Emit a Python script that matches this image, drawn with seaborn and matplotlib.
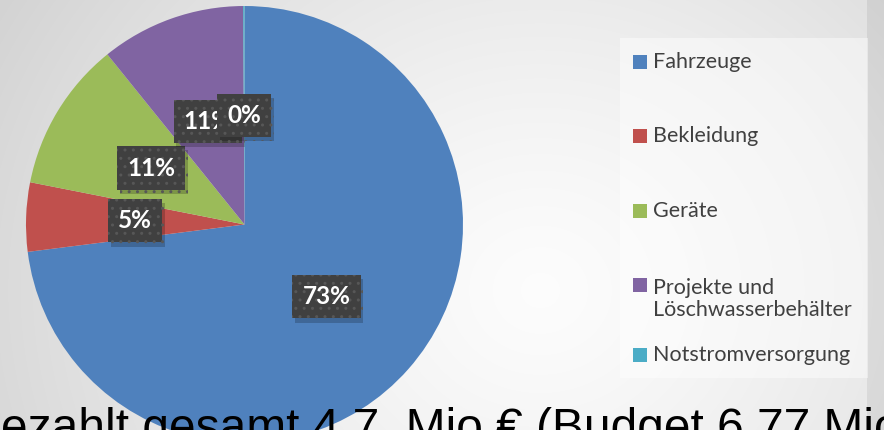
import numpy as np
import matplotlib
matplotlib.use("Agg")
import matplotlib.pyplot as plt
import matplotlib.patheffects as pe
from matplotlib.patches import Rectangle
import seaborn as sns

# ---- data ----
categories = ["Fahrzeuge", "Bekleidung", "Geräte",
              "Projekte und\nLöschwasserbehälter", "Notstromversorgung"]
shares = [73.0, 5.1, 11.1, 10.7, 0.1]
colors = ["#4F81BD", "#C0504D", "#9BBB59", "#8064A2", "#4BACC6"]
caption = "ezahlt gesamt 4,7  Mio € (Budget 6,77 Mio"

# ---- layout (pixel units) ----
W, H = 884, 430
pie_center = (244.5, H - 224.5)
pie_radius = 218.5
legend_rows_y = [62, 136, 211, 299, 355]   # image-y of legend rows
legend_box = (620, 38, 868, 378)

sns.set_theme(style="white")
plt.rcParams["font.family"] = ["Lato", "DejaVu Sans"]

fig = plt.figure(figsize=(W / 100, H / 100), dpi=100)
ax = fig.add_axes([0, 0, 1, 1])

# background radial gradient
yy, xx = np.mgrid[0:H, 0:W]
d = np.hypot(xx - 540, (yy - 290) * 1.1)
bg = np.clip(0.99 - 0.16 * (d / 620) ** 1.3, 0.80, 1.0)
bg[:, 867:] = np.clip(bg[:, 867:] - 0.06, 0, 1)
ax.imshow(np.dstack([bg] * 3), extent=(0, W, 0, H), origin="upper", zorder=0,
          interpolation="bilinear")

wedges, texts, autotexts = ax.pie(
    shares, colors=colors, startangle=90, counterclock=False,
    center=pie_center, radius=pie_radius, autopct="%.0f%%", pctdistance=0.5,
    frame=True, wedgeprops=dict(linewidth=0),
    textprops=dict(color="white", fontsize=17.5, fontweight="bold"))
for w in wedges:
    w.set_zorder(2)
for t in autotexts:
    t.set_zorder(5)
    t.set_bbox(dict(boxstyle="square,pad=0.42", fc="#404040", ec="#575757",
                    lw=0, hatch=".."))
    t.get_bbox_patch().set_path_effects(
        [pe.SimplePatchShadow(offset=(2, -3), shadow_rgbFace="black", alpha=0.2),
         pe.Normal()])

ax.set_xlim(0, W)
ax.set_ylim(0, H)
ax.set_aspect("equal")
ax.set_axis_off()

# legend panel
x0, y0, x1, y1 = legend_box
ax.add_patch(Rectangle((x0, H - y1), x1 - x0, y1 - y0, fc="white", alpha=0.45,
                       ec="none", zorder=1))
for cat, col, yrow in zip(categories, colors, legend_rows_y):
    ny = cat.count("\n")
    ysq = yrow - ny * 14
    ax.add_patch(Rectangle((633, H - ysq - 7), 14, 14, fc=col, ec="none", zorder=3))
    ax.text(653, H - yrow, cat, fontsize=15.5, color="#404040", va="center",
            ha="left", linespacing=1.12, zorder=3)

ax.text(1, -12, caption, fontsize=34.5, color="black", va="baseline", ha="left",
        family=["Liberation Sans", "DejaVu Sans"], zorder=6)

fig.savefig("out.png", dpi=100)
